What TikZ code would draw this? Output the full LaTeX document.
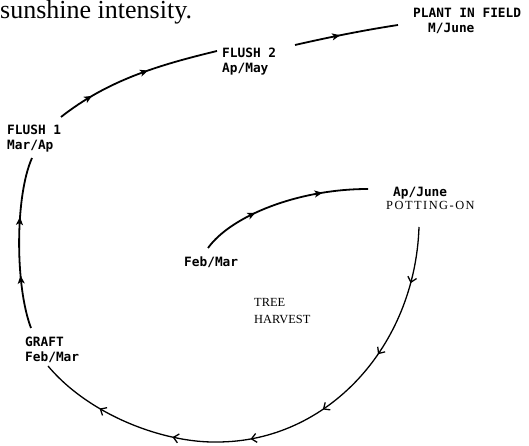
\documentclass[tikz,border=0pt]{standalone}
\usepackage{fontspec}
\setmainfont{Liberation Serif}
\newfontfamily\stagefont{DejaVu Sans Mono}
\newfontfamily\spacedserif{Liberation Serif}[LetterSpace=12]
\usetikzlibrary{arrows.meta, decorations.markings}

\tikzset{
  fwd/.tip={Stealth[length=8pt,width=7pt,inset=2pt]},
  barb/.tip={Straight Barb[length=5pt,width=9pt]}
}

\begin{document}
\begin{tikzpicture}[x=1pt,y=1pt]
\tikzstyle{stage}=[inner sep=0pt, anchor=north west, align=left, font=\stagefont\bfseries\fontsize{12.8}{15}\selectfont]
\tikzstyle{note}=[inner sep=0pt, anchor=north west, align=left, font=\fontsize{12.4}{17}\selectfont]
\tikzstyle{flow}=[line width=1.8pt, postaction=decorate]
\tikzstyle{thinflow}=[line width=1.3pt, postaction=decorate]

\useasboundingbox (0,0) rectangle (529,446);

\node[anchor=base west, inner sep=0pt, font=\fontsize{26}{30}\selectfont] (caption) at (0,427) {sunshine intensity.};

\node[stage] (flush1) at (7,321) {FLUSH 1\\Mar/Ap};
\node[stage] (flush2) at (222,398) {FLUSH 2\\Ap/May};
\node[stage] (field) at (413,438) {PLANT IN FIELD\\\hspace*{15pt}M/June};
\node[stage] (potting) at (386,259) {\hspace*{7pt}Ap/June\\[-2pt]{\spacedserif\mdseries\fontsize{12.4}{14}\selectfont POTTING-ON}};
\node[stage] (sowing) at (184,189) {Feb/Mar};
\node[note] (harvest) at (254,148) {TREE\\HARVEST};
\node[stage] (graft) at (25,109) {GRAFT\\Feb/Mar};

% graft up to the first flush
\draw[flow, decoration={markings, mark=between positions 0.31 and 0.66 step 0.34 with {\arrow{fwd}}}]
  ([shift={(6,9)}]graft.north west) .. controls (15,160) and (15,250) .. ([shift={(25,-33)}]flush1.north west);
\draw[flow, decoration={markings, mark=between positions 0.22 and 0.59 step 0.36 with {\arrow{fwd}}}]
  ([shift={(54,8)}]flush1.north west) .. controls (108,366) and (159,381) .. ([shift={(-5,-3)}]flush2.north west);
\draw[flow, decoration={markings, mark=at position 0.44 with {\arrow{fwd}}}]
  ([shift={(73,3)}]flush2.north west) .. controls (330,409) and (365,416) .. ([shift={(-15,-17)}]field.north west);

% seedling to potting-on, then round to graft
\draw[flow, decoration={markings, mark=between positions 0.34 and 0.75 step 0.4 with {\arrow{fwd}}}]
  ([shift={(24,9)}]sowing.north west) .. controls (231,230) and (298,257) .. ([shift={(-18,-2)}]potting.north west);
\draw[thinflow, decoration={markings, mark=between positions 0.11 and 0.88 step 0.152 with {\arrow{barb}}}]
  ([shift={(33,-40)}]potting.north west) .. controls (415,100) and (328,4) .. (217,4)
  .. controls (165,3) and (90,30) .. ([shift={(23,-29)}]graft.north west);
\end{tikzpicture}
\end{document}
